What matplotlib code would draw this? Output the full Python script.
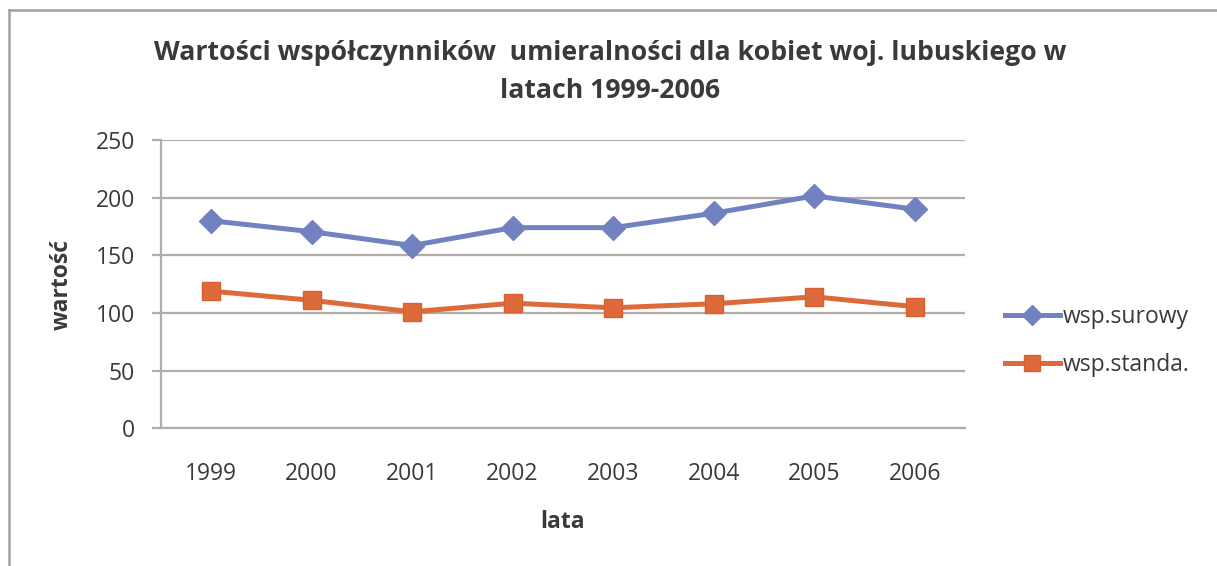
import matplotlib
matplotlib.use("Agg")
import matplotlib.pyplot as plt
from matplotlib.lines import Line2D

years = ["1999", "2000", "2001", "2002", "2003", "2004", "2005", "2006"]
surowy = [180, 170.5, 158.5, 174, 174, 186.5, 201.5, 190]
standa = [119, 111, 101, 108.5, 104.5, 108, 114, 105.5]
series_names = ["wsp.surowy", "wsp.standa."]
title = "Wartości współczynników  umieralności dla kobiet woj. lubuskiego w\nlatach 1999-2006"
y_ticks = [0, 50, 100, 150, 200, 250]

W, H = 1217, 566
fig = plt.figure(figsize=(W / 100, H / 100), dpi=100)
fig.patch.set_facecolor("white")
plt.rcParams['font.family'] = ['Open Sans', 'DejaVu Sans']

txt = "#3a3a3a"
gridc = "#b4aca6"
blue = "#7282c0"
orange = "#dc6a3a"

ax = fig.add_axes([160.7 / W, 1 - 428.3 / H, (965 - 160.7) / W, (428.3 - 140) / H])
x = list(range(len(years)))
ax.plot(x, surowy, color=blue, lw=3.6, marker="D", ms=12, mec=blue, mfc=blue, zorder=3)
ax.plot(x, standa, color=orange, lw=3.6, marker="s", ms=13.5, mec="#d8602c", mfc=orange, mew=1, zorder=3)

ax.set_xlim(-0.5, 7.5)
ax.set_ylim(0, 250)
ax.set_yticks(y_ticks)
ax.set_xticks(x)
ax.set_xticklabels(years)
ax.yaxis.grid(True, color=gridc, lw=1.6)
ax.set_axisbelow(True)
for s in ["top", "right"]:
    ax.spines[s].set_visible(False)
for s in ["left", "bottom"]:
    ax.spines[s].set_color(gridc)
    ax.spines[s].set_linewidth(1.6)
ax.tick_params(axis="y", length=6.5, width=1.6, color=gridc, pad=12, labelsize=16.5, labelcolor=txt)
ax.tick_params(axis="x", length=0, pad=24, labelsize=16.5, labelcolor=txt)

ax.set_ylabel("wartość", fontsize=16.5, fontweight="bold", color=txt)
ax.yaxis.label.set_rotation_mode("anchor")
ax.yaxis.label.set_va("center")
ax.yaxis.set_label_coords((62 - 160.7) / (965 - 160.7), 0.5)
ax.set_xlabel("lata", fontsize=16.5, fontweight="bold", color=txt)
ax.xaxis.set_label_coords(0.5, -(522 - 428.3) / (428.3 - 140))
ax.xaxis.label.set_va("center")

fig.text(610 / W, 1 - 72 / H, title, ha="center", va="center", fontsize=19.2,
         fontweight="bold", color=txt, linespacing=1.55)

handles = [
    Line2D([], [], color=blue, lw=3.6, marker="D", ms=10, mfc=blue, mec=blue),
    Line2D([], [], color=orange, lw=3.6, marker="s", ms=12, mfc=orange, mec="#d8602c"),
]
fig.legend(handles, series_names, loc="center left", bbox_to_anchor=(984 / W, 1 - 341 / H),
           frameon=False, fontsize=16.5, labelcolor=txt, handlelength=2.4,
           handletextpad=0.15, labelspacing=1.05)

# outer chart frame (left and top edges visible)
fig.add_artist(Line2D([9 / W, 9 / W], [0, 1 - 10 / H], color="#a89e99", lw=1.8, transform=fig.transFigure))
fig.add_artist(Line2D([9 / W, 1], [1 - 10 / H, 1 - 10 / H], color="#a89e99", lw=1.8, transform=fig.transFigure))

fig.savefig("out.png", dpi=100, facecolor="white")
